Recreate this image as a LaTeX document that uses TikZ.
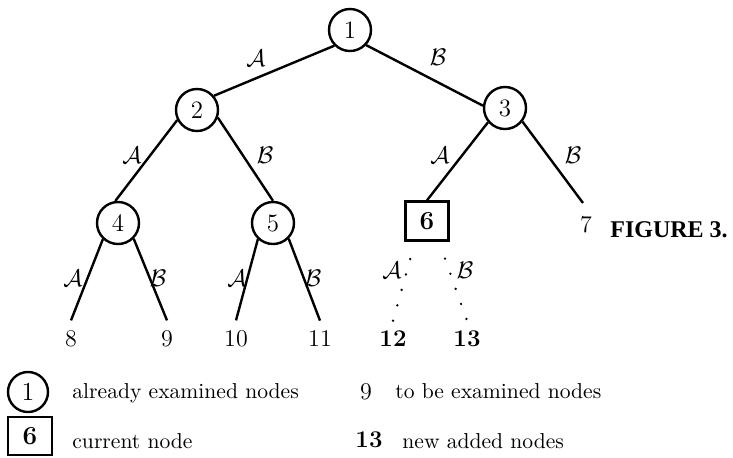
\documentclass[tikz,border=0pt]{standalone}
\usepackage{fontspec}
\newfontfamily\figfont{Liberation Serif}
\begin{document}
\begin{tikzpicture}[x=0.5pt,y=-0.5pt,
  every node/.style={inner sep=0pt},
  tn/.style={circle,draw,line width=1.2pt,minimum size=21pt,font=\fontsize{12.5}{14}\selectfont},
  cur/.style={rectangle,draw,line width=1.2pt,minimum width=21.5pt,minimum height=19.5pt,font=\fontsize{13}{15}\selectfont\bfseries},
  leaf/.style={inner sep=5pt,font=\fontsize{12}{14}\selectfont},
  newleaf/.style={inner sep=5pt,font=\fontsize{12}{14}\selectfont\bfseries},
  lab/.style={font=\fontsize{12.5}{14}\selectfont},
  edge/.style={line width=1.2pt},
  dotedge/.style={line width=1.3pt,line cap=round,dash pattern=on 0pt off 8pt,shorten <=9pt},
  legtxt/.style={anchor=base west,font=\fontsize{10.8}{13}\selectfont},
]
\useasboundingbox (0,0) rectangle (733,457);
% tree nodes
\node[tn] (n1) at (350,30) {1};
\node[tn] (n2) at (197,110) {2};
\node[tn] (n3) at (505,108) {3};
\node[tn] (n4) at (118,223) {4};
\node[tn] (n5) at (273,223) {5};
\node[cur] (n6) at (427,221) {6};
\node[font=\fontsize{12}{14}\selectfont] (n7) at (586,225) {7};
\coordinate (e7) at (583,203);
\node[leaf] (n8) at (71,339) {8};
\node[leaf] (n9) at (167,339) {9};
\node[leaf] (n10) at (236,339) {10};
\node[leaf] (n11) at (320,339) {11};
\node[newleaf] (n12) at (393,339) {12};
\node[newleaf] (n13) at (467,339) {13};
% edges
\draw[edge] (n1.225) -- (n2.40);
\draw[edge] (n1.317) -- (n3.174);
\draw[edge] (n2.207) -- (n4.97);
\draw[edge] (n2.340) -- (n5.north);
\draw[edge] (n3.220) -- (n6.north);
\draw[edge] (n3.322) -- (e7);
\draw[edge] (n4.227) -- (n8.north);
\draw[edge] (n4.315) -- (n9.north);
\draw[edge] (n5.227) -- (n10.north);
\draw[edge] (n5.315) -- (n11.north);
\draw[dotedge] (n6.240) -- (n12.north);
\draw[dotedge] (n6.300) -- (n13.north);
% edge labels
\node[lab] (l12) at (256,58) {$\mathcal{A}$};
\node[lab] (l13) at (438,57) {$\mathcal{B}$};
\node[lab] (l24) at (132,155) {$\mathcal{A}$};
\node[lab] (l25) at (265,155) {$\mathcal{B}$};
\node[lab] (l36) at (440,155) {$\mathcal{A}$};
\node[lab] (l37) at (573,155) {$\mathcal{B}$};
\node[lab] (l48) at (73,278) {$\mathcal{A}$};
\node[lab] (l49) at (158,278) {$\mathcal{B}$};
\node[lab] (l510) at (237,278) {$\mathcal{A}$};
\node[lab] (l511) at (313,278) {$\mathcal{B}$};
\node[lab] (l612) at (392,270) {$\mathcal{A}$};
\node[lab] (l613) at (465,270) {$\mathcal{B}$};
% caption
\node[anchor=base west,font=\fontsize{12}{14}\figfont\bfseries] (fig) at (610,237) {FIGURE 3.};
% legend
\node[tn,minimum size=20pt,font=\fontsize{13}{15}\selectfont] (k1) at (28,392) {1};
\node[legtxt] (k1t) at (72,398) {already examined nodes};
\node[cur,minimum width=22pt,minimum height=19pt,font=\fontsize{13}{15}\selectfont\bfseries] (k6) at (30,436) {6};
\node[legtxt] (k6t) at (72,448) {current node};
\node[font=\fontsize{12}{14}\selectfont] (k9) at (366,392) {9};
\node[legtxt] (k9t) at (395,398) {to be examined nodes};
\node[font=\fontsize{12}{14}\selectfont\bfseries] (k13) at (369,440) {13};
\node[legtxt] (k13t) at (402,448) {new added nodes};
\end{tikzpicture}
\end{document}
